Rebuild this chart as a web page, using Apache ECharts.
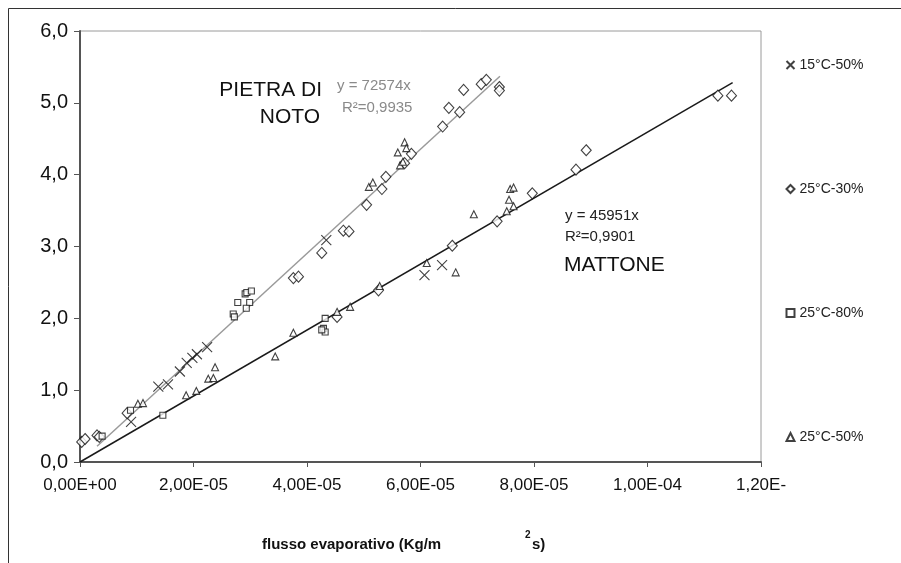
<!DOCTYPE html>
<html>
<head>
<meta charset="utf-8">
<script src="https://cdn.jsdelivr.net/npm/echarts@6/dist/echarts.min.js"></script>
<style>
  html, body { margin: 0; padding: 0; background: #fff; }
  #chart { width: 901px; height: 563px; }
</style>
</head>
<body>
<div id="chart"></div>
<script>
function $(selectors) {
    return document.querySelector(selectors);
}

// valori: [flusso, y]
var cross15_50 = [
    [9.0e-6, 0.56], [1.38e-5, 1.05], [1.55e-5, 1.08], [1.76e-5, 1.26], [1.88e-5, 1.38],
    [1.98e-5, 1.45], [2.06e-5, 1.50], [2.24e-5, 1.60], [4.34e-5, 3.09], [6.07e-5, 2.60],
    [6.38e-5, 2.74]
];
var diamond25_30 = [
    [0.3e-6, 0.28], [0.9e-6, 0.32], [3.0e-6, 0.37], [3.4e-6, 0.35], [8.3e-6, 0.68],
    [3.76e-5, 2.56], [3.85e-5, 2.58], [4.26e-5, 2.91], [4.64e-5, 3.22], [4.74e-5, 3.21],
    [5.05e-5, 3.58], [5.32e-5, 3.80], [5.39e-5, 3.97], [5.72e-5, 4.16], [5.84e-5, 4.29],
    [6.39e-5, 4.67], [6.50e-5, 4.93], [6.69e-5, 4.87], [6.76e-5, 5.18], [7.07e-5, 5.26],
    [7.16e-5, 5.32], [7.39e-5, 5.22], [7.39e-5, 5.17],
    [4.53e-5, 2.02], [5.26e-5, 2.39], [6.56e-5, 3.01], [7.35e-5, 3.35], [7.97e-5, 3.74],
    [8.74e-5, 4.07], [8.92e-5, 4.34], [1.124e-4, 5.10], [1.148e-4, 5.10]
];
var square25_80 = [
    [3.9e-6, 0.36], [8.9e-6, 0.72], [1.46e-5, 0.65], [2.70e-5, 2.06], [2.72e-5, 2.02],
    [2.78e-5, 2.22], [2.91e-5, 2.34], [2.94e-5, 2.36], [3.02e-5, 2.38], [2.99e-5, 2.22],
    [2.93e-5, 2.14], [4.32e-5, 2.00], [4.29e-5, 1.86], [4.32e-5, 1.81], [4.26e-5, 1.84]
];
var triangle25_50 = [
    [1.02e-5, 0.81], [1.11e-5, 0.82], [1.87e-5, 0.93], [2.05e-5, 0.99], [2.26e-5, 1.16],
    [2.35e-5, 1.17], [2.38e-5, 1.32],
    [5.09e-5, 3.83], [5.16e-5, 3.89], [5.60e-5, 4.31], [5.64e-5, 4.13], [5.69e-5, 4.18],
    [5.72e-5, 4.45], [5.75e-5, 4.37],
    [3.44e-5, 1.47], [3.76e-5, 1.80], [4.53e-5, 2.09], [4.76e-5, 2.16], [5.28e-5, 2.45],
    [6.11e-5, 2.77], [6.62e-5, 2.64], [6.94e-5, 3.45], [7.52e-5, 3.49], [7.56e-5, 3.65],
    [7.58e-5, 3.80], [7.64e-5, 3.82], [7.64e-5, 3.56]
];
// rette di regressione (estremi letti)
var pietraFit = [[3.0e-6, 0.22], [7.4e-5, 5.37]];
var mattoneFit = [[0, 0], [1.15e-4, 5.28]];

var seriesNames = ['15°C-50%', '25°C-30%', '25°C-80%', '25°C-50%'];
var xTickLabels = ['0,00E+00', '2,00E-05', '4,00E-05', '6,00E-05', '8,00E-05', '1,00E-04', '1,20E-'];

var myChart = echarts.init($('#chart'));

var markerStyle = {
    color: '#fff',
    borderColor: '#111',
    borderWidth: 1.1
};

var option = {
    backgroundColor: '#fff',
    animation: false,
    textStyle: { fontFamily: 'Liberation Sans, Arial, sans-serif' },
    grid: {
        left: 80,
        top: 31,
        right: 140,
        bottom: 101,
        show: true,
        borderColor: '#9a9a9a',
        borderWidth: 1
    },
    legend: {
        data: seriesNames,
        orient: 'vertical',
        left: 779,
        top: 53,
        itemWidth: 8,
        itemHeight: 8,
        itemGap: 110,
        textStyle: { fontSize: 14, color: '#222', lineHeight: 14 },
        selectedMode: false
    },
    xAxis: {
        type: 'value',
        min: 0,
        max: 1.2e-4,
        interval: 2e-5,
        splitLine: { show: false },
        axisLine: { lineStyle: { color: '#555', width: 2 } },
        axisTick: { lineStyle: { color: '#555' }, length: 5 },
        axisLabel: {
            fontSize: 17,
            color: '#111',
            margin: 15,
            formatter: function(v) {
                return xTickLabels[Math.round(v / 2e-5)];
            }
        }
    },
    yAxis: {
        type: 'value',
        min: 0,
        max: 6,
        interval: 1,
        splitLine: { show: false },
        axisLine: { show: true, lineStyle: { color: '#555', width: 2 } },
        axisTick: { show: true, lineStyle: { color: '#555' }, length: 6 },
        axisLabel: {
            fontSize: 20,
            color: '#111',
            margin: 12,
            formatter: function(v) {
                return v.toFixed(1).replace('.', ',');
            }
        }
    },
    graphic: [
        { type: 'rect', left: 6, top: 6, shape: { width: 1000, height: 1000 },
          style: { fill: 'none', stroke: '#333', lineWidth: 1 }, silent: true },
        { type: 'text', right: 901 - 322, top: 80, style: { text: 'PIETRA DI', fontSize: 21, fill: '#111', align: 'right' } },
        { type: 'text', right: 901 - 320, top: 107, style: { text: 'NOTO', fontSize: 21, fill: '#111', align: 'right' } },
        { type: 'text', left: 337, top: 78, style: { text: 'y = 72574x', fontSize: 15, fill: '#8a8a8a' } },
        { type: 'text', left: 342, top: 100, style: { text: 'R²=0,9935', fontSize: 15, fill: '#8a8a8a' } },
        { type: 'text', left: 565, top: 208, style: { text: 'y = 45951x', fontSize: 15, fill: '#222' } },
        { type: 'text', left: 565, top: 229, style: { text: 'R²=0,9901', fontSize: 15, fill: '#222' } },
        { type: 'text', left: 564, top: 255, style: { text: 'MATTONE', fontSize: 21, fill: '#111' } },
        { type: 'text', left: 262, top: 537, style: { text: 'flusso evaporativo (Kg/m', fontSize: 15, fontWeight: 'bold', fill: '#111' } },
        { type: 'text', left: 525, top: 530, style: { text: '2', fontSize: 10, fontWeight: 'bold', fill: '#111' } },
        { type: 'text', left: 532, top: 537, style: { text: 's)', fontSize: 15, fontWeight: 'bold', fill: '#111' } }
    ],
    series: [
        {
            name: 'fit pietra',
            type: 'line',
            data: pietraFit,
            symbol: 'none',
            lineStyle: { color: '#9a9a9a', width: 1.5 },
            z: 1
        },
        {
            name: 'fit mattone',
            type: 'line',
            data: mattoneFit,
            symbol: 'none',
            lineStyle: { color: '#1a1a1a', width: 1.5 },
            z: 1
        },
        {
            name: seriesNames[0],
            type: 'scatter',
            data: cross15_50,
            symbol: 'path://M0,0L10,10M10,0L0,10',
            symbolSize: 10,
            itemStyle: { color: 'none', borderColor: '#111', borderWidth: 1.1 },
            z: 3
        },
        {
            name: seriesNames[1],
            type: 'scatter',
            data: diamond25_30,
            symbol: 'diamond',
            symbolSize: [10, 11],
            itemStyle: markerStyle,
            z: 3
        },
        {
            name: seriesNames[2],
            type: 'scatter',
            data: square25_80,
            symbol: 'rect',
            symbolSize: 6,
            itemStyle: markerStyle,
            z: 3
        },
        {
            name: seriesNames[3],
            type: 'scatter',
            data: triangle25_50,
            symbol: 'triangle',
            symbolSize: 7,
            itemStyle: markerStyle,
            z: 3
        }
    ]
};

myChart.setOption(option);
</script>
</body>
</html>
